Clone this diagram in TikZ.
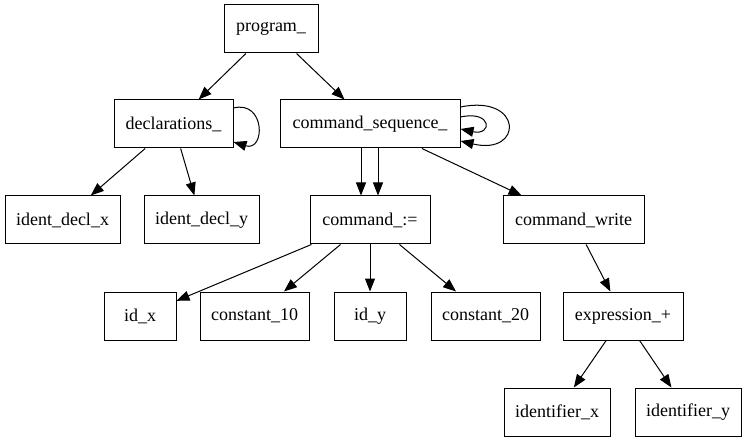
\documentclass[tikz,border=0pt]{standalone}
\usepackage{fontspec}
\setmainfont{Liberation Serif}
\usetikzlibrary{arrows.meta,calc}
\begin{document}
\begin{tikzpicture}[x=1pt,y=1pt,
  box/.style={draw, rectangle, line width=1pt, inner sep=0pt, minimum height=48pt, font=\fontsize{18}{22}\selectfont},
  edge/.style={line width=1pt, -{Triangle[length=13pt,width=10pt]}}]
\useasboundingbox (0,0) rectangle (743,-443);
\node[box, minimum width=94pt] (prog) at (271,-29) {program\_};
\node[box, minimum width=119pt] (dcl) at (173.5,-124) {declarations\_};
\node[box, minimum width=180pt] (cs) at (370,-124) {command\_sequence\_};
\node[box, minimum width=115pt] (idx) at (62.5,-220) {ident\_decl\_x};
\node[box, minimum width=115pt] (idy) at (201.5,-220) {ident\_decl\_y};
\node[box, minimum width=120pt] (cmd) at (370,-220) {command\_:=};
\node[box, minimum width=141pt] (cw) at (573.5,-220) {command\_write};
\node[box, minimum width=72pt] (ix) at (140,-316) {id\_x};
\node[box, minimum width=109pt] (c10) at (254.5,-316) {constant\_10};
\node[box, minimum width=72pt] (iy) at (370,-316) {id\_y};
\node[box, minimum width=109pt] (c20) at (485.5,-316) {constant\_20};
\node[box, minimum width=120pt] (expr) at (623,-316) {expression\_+};
\node[box, minimum width=106pt] (fx) at (557,-412) {identifier\_x};
\node[box, minimum width=106pt] (fy) at (688,-412) {identifier\_y};

\draw[edge] (prog) -- (dcl);
\draw[edge] (prog) -- (cs);
\draw[edge] ($(dcl.east)+(0,16)$) .. controls ($(dcl.east)+(32,24)$) and ($(dcl.east)+(32,-28)$) .. ($(dcl.east)+(0,-18)$);
\draw[edge] ($(cs.east)+(0,17)$) .. controls ($(cs.east)+(63,30)$) and ($(cs.east)+(63,-32)$) .. ($(cs.east)+(0,-17)$);
\draw[edge] ($(cs.east)+(0,7)$) .. controls ($(cs.east)+(32,14)$) and ($(cs.east)+(32,-12)$) .. ($(cs.east)+(0,-5)$);
\draw[edge] (dcl) -- (idx);
\draw[edge] (dcl) -- (idy);
\draw[edge] ([xshift=-9pt]cs.south) -- ([xshift=-9pt]cmd.north);
\draw[edge] ([xshift=8pt]cs.south) -- ([xshift=8pt]cmd.north);
\draw[edge] (cs) -- (cw);
\draw[edge] (cmd) -- (ix);
\draw[edge] (cmd) -- (c10);
\draw[edge] (cmd) -- (iy);
\draw[edge] (cmd) -- (c20);
\draw[edge] (cw) -- (expr);
\draw[edge] (expr) -- (fx);
\draw[edge] (expr) -- (fy);
\end{tikzpicture}
\end{document}
